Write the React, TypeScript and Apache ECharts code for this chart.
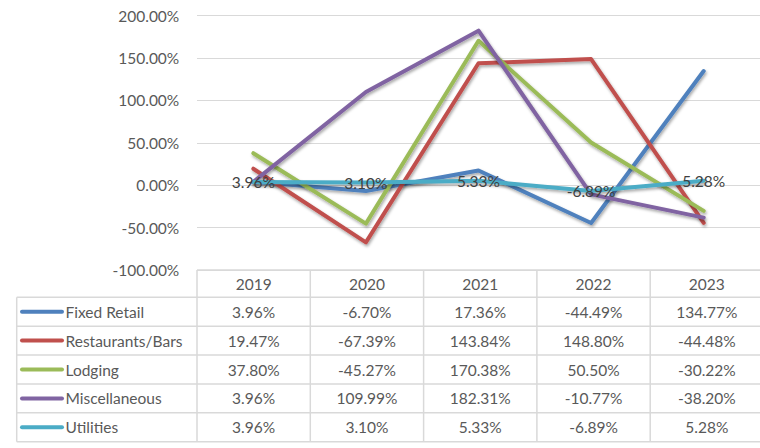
import React, { useEffect, useRef } from "react";
import * as echarts from "echarts";

const categories = ["2019", "2020", "2021", "2022", "2023"];
const seriesNames = ["Fixed Retail", "Restaurants/Bars", "Lodging", "Miscellaneous", "Utilities"];
const fixedRetail = [3.96, -6.7, 17.36, -44.49, 134.77];
const restaurantsBars = [19.47, -67.39, 143.84, 148.8, -44.48];
const lodging = [37.8, -45.27, 170.38, 50.5, -30.22];
const miscellaneous = [3.96, 109.99, 182.31, -10.77, -38.2];
const utilities = [3.96, 3.1, 5.33, -6.89, 5.28];
const seriesValues = [fixedRetail, restaurantsBars, lodging, miscellaneous, utilities];
const colors = ["#4F81BD", "#C0504D", "#9BBB59", "#8064A2", "#4BACC6"];
const yMin = -100;
const yMax = 200;
const yInterval = 50;

const W = 760;
const H = 448;
const FONT = "Lato, 'Noto Sans', sans-serif";
const FS = 15.5;
const TXT = "#595959";
const BORDER = "#D9D9D9";

const plotLeft = 197;
const plotRight = 763.5;
const plotTop = 15.7;
const plotBottom = 270;
const tableLeft = 16.7;
const headerTop = 270;
const rowTop = 297.3;
const rowH = 28.88;

const fmt = (v: number) => v.toFixed(2) + "%";

export default function App() {
  const ref = useRef<HTMLDivElement>(null);
  useEffect(() => {
    document.body.style.margin = "0";
    if (!ref.current) return;
    const chart = echarts.init(ref.current, null, { renderer: "svg" });
    const colW = (plotRight - plotLeft) / categories.length;
    const tableBottom = rowTop + rowH * seriesNames.length;
    const graphics: any[] = [];
    // horizontal borders
    graphics.push({
      type: "line",
      shape: { x1: plotLeft, y1: headerTop, x2: plotRight, y2: headerTop },
      style: { stroke: BORDER, lineWidth: 1.5 },
    });
    for (let r = 0; r <= seriesNames.length; r++) {
      const y = rowTop + r * rowH;
      graphics.push({
        type: "line",
        shape: { x1: tableLeft, y1: y, x2: plotRight, y2: y },
        style: { stroke: BORDER, lineWidth: 1.5 },
      });
    }
    // vertical borders
    graphics.push({
      type: "line",
      shape: { x1: tableLeft, y1: rowTop, x2: tableLeft, y2: tableBottom },
      style: { stroke: BORDER, lineWidth: 1.5 },
    });
    for (let c = 0; c <= categories.length; c++) {
      const x = plotLeft + c * colW;
      graphics.push({
        type: "line",
        shape: { x1: x, y1: headerTop, x2: x, y2: tableBottom },
        style: { stroke: BORDER, lineWidth: 1.5 },
      });
    }
    // header texts
    categories.forEach((cat, c) => {
      graphics.push({
        type: "text",
        x: plotLeft + (c + 0.5) * colW,
        y: (headerTop + rowTop) / 2,
        style: { text: cat, fill: TXT, font: `${FS}px ${FONT}`, align: "center", verticalAlign: "middle" },
      });
    });
    // rows
    seriesNames.forEach((name, r) => {
      const cy = rowTop + (r + 0.5) * rowH;
      graphics.push({
        type: "line",
        shape: { x1: 22, y1: cy, x2: 62, y2: cy },
        style: { stroke: colors[r], lineWidth: 4, lineCap: "round" },
      });
      graphics.push({
        type: "text",
        x: 65.5,
        y: cy,
        style: { text: name, fill: TXT, font: `${FS}px ${FONT}`, align: "left", verticalAlign: "middle" },
      });
      seriesValues[r].forEach((v, c) => {
        graphics.push({
          type: "text",
          x: plotLeft + (c + 0.5) * colW,
          y: cy,
          style: { text: fmt(v), fill: TXT, font: `${FS}px ${FONT}`, align: "center", verticalAlign: "middle" },
        });
      });
    });

    chart.setOption({
      animation: false,
      grid: { left: plotLeft, top: plotTop, right: W - plotRight, bottom: H - plotBottom, containLabel: false },
      xAxis: {
        type: "category",
        data: categories,
        boundaryGap: true,
        axisLine: { show: false },
        axisTick: { show: false },
        axisLabel: { show: false },
      },
      yAxis: {
        type: "value",
        min: yMin,
        max: yMax,
        interval: yInterval,
        axisLine: { show: false },
        axisTick: { show: false },
        axisLabel: {
          formatter: (v: number) => fmt(v),
          color: TXT,
          fontFamily: FONT,
          fontSize: FS,
          margin: 17.7,
        },
        splitLine: { lineStyle: { color: BORDER, width: 1 } },
      },
      series: seriesNames.map((name, i) => ({
        name,
        type: "line",
        data: seriesValues[i],
        symbol: "circle",
        symbolSize: 0,
        showSymbol: true,
        itemStyle: { color: colors[i] },
        lineStyle: {
          color: colors[i],
          width: 4,
          cap: "round",
          join: "round",
          shadowColor: "rgba(0,0,0,0.35)",
          shadowBlur: 3,
          shadowOffsetX: 1,
          shadowOffsetY: 2,
        },
        label: {
          show: i === 4,
          position: "inside",
          formatter: (p: any) => fmt(p.value),
          color: "#404040",
          fontFamily: FONT,
          fontSize: FS,
        },
        z: 2 + i,
      })),
      graphic: graphics,
    });
    return () => chart.dispose();
  }, []);
  return <div ref={ref} style={{ width: W, height: H }} />;
}
